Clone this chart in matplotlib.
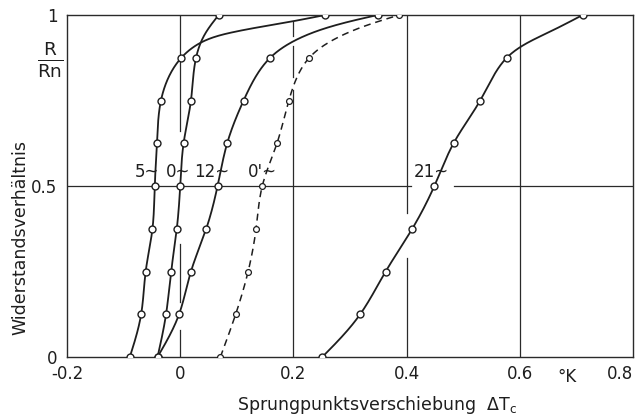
import numpy as np
import matplotlib
matplotlib.use("Agg")
import matplotlib.pyplot as plt

plt.rcParams['font.family'] = ['DejaVu Sans']
plt.rcParams['lines.scale_dashes'] = False

# ---- data ----
y_levels = [0.0, 0.125, 0.25, 0.375, 0.5, 0.625, 0.75, 0.875, 1.0]

x_5 = [-0.089, -0.069, -0.061, -0.049, -0.045, -0.041, -0.034, 0.002, 0.256]
x_0 = [-0.040, -0.025, -0.016, -0.006, 0.000, 0.006, 0.019, 0.028, 0.068]
x_12 = [-0.040, -0.002, 0.019, 0.046, 0.066, 0.083, 0.112, 0.159, 0.349]
x_0p = [0.071, 0.098, 0.120, 0.134, 0.145, 0.171, 0.192, 0.228, 0.387]
x_21 = [0.251, 0.318, 0.363, 0.410, 0.449, 0.483, 0.530, 0.577, 0.711]

# extra points (no markers there)
tail_5_x, tail_5_y = [0.035, 0.094, 0.200], [0.918, 0.950, 0.982]
tail_0_x, tail_0_y = [0.041], [0.936]
tail_12_x, tail_12_y = [0.212, 0.270], [0.933, 0.968]
tail_0p_x, tail_0p_y = [0.270, 0.330], [0.927, 0.970]
tail_21_x, tail_21_y = [0.653], [0.951]

curve_labels = ["5~", "0~", "12~", "0'~", "21~"]
label_x = [-0.080, -0.026, 0.024, 0.119, 0.412]
label_y = [0.54, 0.54, 0.54, 0.54, 0.54]

x_ticks = [-0.2, 0, 0.2, 0.4, 0.6, 0.8]
x_ticklabels = ["-0.2", "0", "0.2", "0.4", "0.6", "0.8"]
y_ticks = [0, 0.5, 1]
y_ticklabels = ["0", "0.5", "1"]

INK = "#1e1e1e"
FS_TICK = 12
FS_LAB = 12.5

fig = plt.figure(figsize=(6.35, 4.16), dpi=100)
ax = fig.add_axes([67 / 635, 59 / 416, 566 / 635, 342 / 416])
ax.set_xlim(-0.2, 0.8)
ax.set_ylim(0, 1)


def natural_spline(t, v, tq):
    n = len(t)
    h = np.diff(t)
    A = np.zeros((n, n))
    r = np.zeros(n)
    A[0, 0] = 1
    A[-1, -1] = 1
    for i in range(1, n - 1):
        A[i, i - 1] = h[i - 1]
        A[i, i] = 2 * (h[i - 1] + h[i])
        A[i, i + 1] = h[i]
        r[i] = 6 * ((v[i + 1] - v[i]) / h[i] - (v[i] - v[i - 1]) / h[i - 1])
    M = np.linalg.solve(A, r)
    idx = np.clip(np.searchsorted(t, tq) - 1, 0, n - 2)
    t0, t1 = t[idx], t[idx + 1]
    hh = t1 - t0
    a = (t1 - tq) / hh
    b = (tq - t0) / hh
    return (a * v[idx] + b * v[idx + 1]
            + ((a ** 3 - a) * M[idx] + (b ** 3 - b) * M[idx + 1]) * hh ** 2 / 6)


def smooth_curve(xs, ys, n=400):
    """Parametric natural cubic spline (chord length) in display space."""
    P = ax.transData.transform(np.column_stack([xs, ys]))
    d = np.sqrt(np.sum(np.diff(P, axis=0) ** 2, axis=1))
    t = np.concatenate([[0], np.cumsum(d)])
    tq = np.linspace(0, t[-1], n)
    D = np.column_stack([natural_spline(t, P[:, 0], tq), natural_spline(t, P[:, 1], tq)])
    back = ax.transData.inverted().transform(D)
    return back[:, 0], back[:, 1]


def merged(xm, ym, xt, yt):
    xs = list(xm) + list(xt)
    ys = list(ym) + list(yt)
    order = np.argsort(ys, kind="stable")
    return [xs[i] for i in order], [ys[i] for i in order]


# ---- broken grid lines ----
grid_kw = dict(color="#2a2a2a", lw=0.9, zorder=1)
for (a, b) in [(0, 0.08), (0.16, 0.33), (0.66, 1.0)]:
    ax.axvline(0.0, a, b, **grid_kw)
for (a, b) in [(0, 0.78), (0.82, 0.91), (0.94, 0.98)]:
    ax.axvline(0.2, a, b, **grid_kw)
for (a, b) in [(0, 0.29), (0.42, 1.0)]:
    ax.axvline(0.4, a, b, **grid_kw)
ax.axvline(0.6, 0, 1, **grid_kw)
for (a, b) in [(0, 0.608), (0.684, 1.0)]:
    ax.axhline(0.5, a, b, **grid_kw)

# ---- curves ----
series = [
    (x_5, tail_5_x, tail_5_y, "-"),
    (x_0, tail_0_x, tail_0_y, "-"),
    (x_12, tail_12_x, tail_12_y, "-"),
    (x_0p, tail_0p_x, tail_0p_y, "--"),
    (x_21, tail_21_x, tail_21_y, "-"),
]
for xm, xt, yt, ls in series:
    lx, ly = merged(xm, y_levels, xt, yt)
    cx, cy = smooth_curve(lx, ly)
    if ls == "--":
        ax.plot(cx, cy, color=INK, lw=1.1, dashes=(5, 3.5), zorder=2)
        ax.plot(xm, y_levels, "o", ms=4.2, mfc="white", mec=INK, mew=0.9, zorder=3)
    else:
        ax.plot(cx, cy, color=INK, lw=1.3, zorder=2)
        ax.plot(xm, y_levels, "o", ms=5, mfc="white", mec=INK, mew=1.0, zorder=3)

for t, lx, ly in zip(curve_labels, label_x, label_y):
    ax.text(lx, ly, t, fontsize=FS_TICK, color=INK, ha="left", va="center", zorder=4)

# ---- axes styling ----
for s in ax.spines.values():
    s.set_color("#2a2a2a")
    s.set_linewidth(1.0)
ax.set_xticks(x_ticks)
ax.set_xticklabels(x_ticklabels)
ax.set_yticks(y_ticks)
ax.set_yticklabels(y_ticklabels)
ax.tick_params(axis="both", length=0, labelsize=FS_TICK, colors=INK)
ax.tick_params(axis="x", pad=6)
ax.tick_params(axis="y", pad=7)
ax.get_xticklabels()[-1].set_horizontalalignment("right")

ax.text(0.683, -0.058, "°K", transform=ax.get_xaxis_transform(),
        fontsize=FS_TICK, color=INK, ha="center", va="center")
ax.text(-0.03, 0.87, r"$\frac{\mathregular{R}}{\mathregular{Rn}}$", transform=ax.transAxes,
        fontsize=19, color=INK, ha="center", va="center")
ax.text(-0.083, 0.35, "Widerstandsverhältnis", transform=ax.transAxes,
        rotation=90, fontsize=FS_LAB, color=INK, ha="center", va="center")
ax.text(0.548, -0.14, r"Sprungpunktsverschiebung  Δ$\mathregular{T_c}$", transform=ax.transAxes,
        fontsize=FS_LAB, color=INK, ha="center", va="center")

fig.savefig("out.png", dpi=100, facecolor="white")
